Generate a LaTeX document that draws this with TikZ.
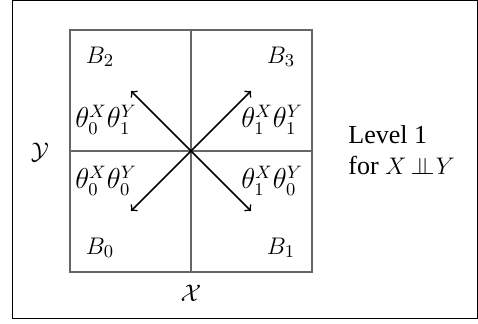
\documentclass[tikz,border=0pt]{standalone}
\usepackage[no-math]{fontspec}
\setmainfont{Liberation Serif}
\usepackage{amsmath}
\newcommand{\myindep}{\mkern3mu{\perp\mkern-10mu\perp}\mkern1mu}
\begin{document}
\begin{tikzpicture}[x=0.5pt,y=-0.5pt,
  grid/.style={draw=black!60, line width=0.6pt},
  arr/.style={->, line width=0.8pt},
  lab/.style={font=\fontsize{13}{15.5}\selectfont, inner sep=0pt},
  tlab/.style={font=\fontsize{13.5}{16}\selectfont, inner sep=0pt}]
\useasboundingbox (0,0) rectangle (478,324);
\draw[line width=0.6pt] (12.5,0.5) rectangle (477.5,318.5);
\draw[grid] (70,30) rectangle (312,272);
\draw[grid] (191,30) -- (191,272);
\draw[grid] (70,151) -- (312,151);
\coordinate (c) at (191,151);
\coordinate (nw) at (131,91);
\coordinate (ne) at (251,91);
\coordinate (sw) at (131,211);
\coordinate (se) at (251,211);
\draw[arr] (c) -- (nw);
\draw[arr] (c) -- (ne);
\draw[arr] (c) -- (sw);
\draw[arr] (c) -- (se);
\node[lab] (b2) at (100,57) {$B_2$};
\node[lab] (b3) at (281,57) {$B_3$};
\node[lab] (b0) at (100,248) {$B_0$};
\node[lab] (b1) at (281,248) {$B_1$};
\node[tlab] (t01) at (106,120) {$\theta_0^X\theta_1^Y$};
\node[tlab] (t11) at (272,120) {$\theta_1^X\theta_1^Y$};
\node[tlab] (t00) at (106,181) {$\theta_0^X\theta_0^Y$};
\node[tlab] (t10) at (272,181) {$\theta_1^X\theta_0^Y$};
\node[lab] (ly) at (40,152) {$\mathcal{Y}$};
\node[lab] (lx) at (191,293) {$\mathcal{X}$};
\node[lab, anchor=west, align=left] (lev) at (348,150) {Level 1\\for $X\myindep Y$};
\end{tikzpicture}
\end{document}
